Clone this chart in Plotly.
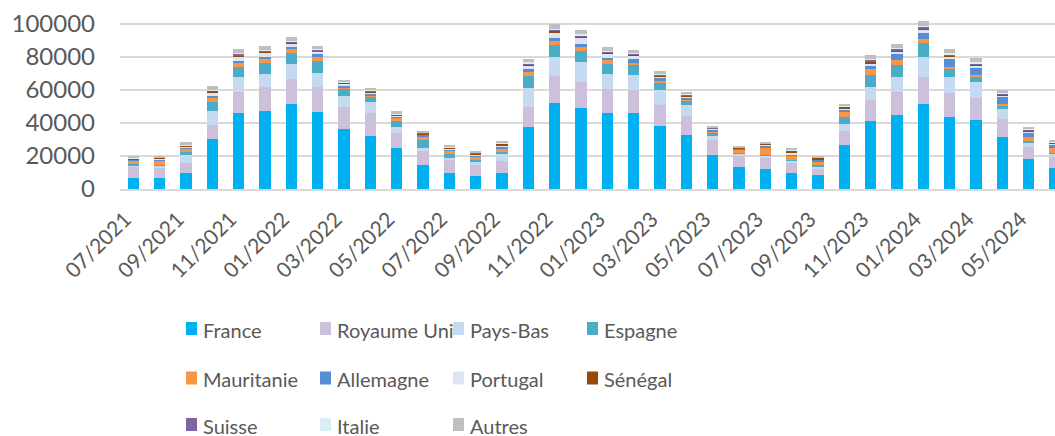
import plotly.graph_objects as go

months = ["07/2021", "08/2021", "09/2021", "10/2021", "11/2021", "12/2021",
          "01/2022", "02/2022", "03/2022", "04/2022", "05/2022", "06/2022",
          "07/2022", "08/2022", "09/2022", "10/2022", "11/2022", "12/2022",
          "01/2023", "02/2023", "03/2023", "04/2023", "05/2023", "06/2023",
          "07/2023", "08/2023", "09/2023", "10/2023", "11/2023", "12/2023",
          "01/2024", "02/2024", "03/2024", "04/2024", "05/2024", "06/2024"]

tick_labels = ["07/2021", "09/2021", "11/2021", "01/2022", "03/2022", "05/2022",
               "07/2022", "09/2022", "11/2022", "01/2023", "03/2023", "05/2023",
               "07/2023", "09/2023", "11/2023", "01/2024", "03/2024", "05/2024"]

france = [6900, 6900, 9900, 30500, 45700, 46900, 51100, 46300, 36400, 32300, 24800, 14500,
          9700, 8100, 9900, 37400, 52300, 48700, 45700, 45900, 37800, 32500, 20800, 13100,
          11900, 9500, 8300, 26500, 41200, 45000, 51700, 43600, 41600, 31500, 18000, 12500]
royaume_uni = [6800, 6300, 6100, 8500, 12900, 14500, 15600, 15400, 13100, 13900, 9300, 8700,
               8300, 6500, 6900, 12100, 16000, 16000, 14500, 13700, 12900, 11500, 8700, 6900,
               7300, 6100, 4000, 8500, 12900, 13900, 16000, 14300, 13700, 10700, 7300, 6700]
pays_bas = [800, 1200, 5000, 7900, 8900, 7900, 8700, 8700, 6900, 6300, 3600, 1800,
            1000, 2000, 4600, 11300, 11500, 11900, 9100, 9300, 9100, 6700, 2800, 1200,
            1200, 1600, 1200, 4200, 7700, 9100, 12100, 10100, 9100, 5900, 2800, 2000]
espagne = [600, 400, 1200, 5700, 6300, 7100, 6700, 7300, 4600, 3400, 3600, 4400,
           2000, 1200, 800, 7300, 7100, 6900, 6300, 6500, 4800, 3000, 1800, 400,
           400, 400, 800, 4200, 7100, 6900, 8500, 4400, 3200, 1800, 800, 600]
mauritanie = [2200, 2600, 2200, 2600, 2600, 2400, 2400, 2000, 600, 600, 1800, 2600,
              2400, 2000, 2000, 2400, 2600, 2600, 2200, 1000, 600, 400, 800, 2000,
              4400, 2800, 2400, 3200, 3800, 3200, 2200, 1600, 1400, 1800, 2600, 2800]
allemagne = [400, 400, 800, 1200, 1200, 1200, 1600, 2000, 1000, 1200, 1000, 800,
             600, 600, 1200, 1800, 1800, 1600, 1400, 2000, 2200, 1400, 1200, 600,
             1000, 600, 1000, 1200, 1400, 3400, 3600, 4400, 4000, 4000, 2800, 2600]
portugal = [400, 400, 400, 1600, 2400, 2400, 2000, 1200, 1200, 800, 400, 400,
            600, 600, 800, 2200, 3000, 3600, 2800, 2400, 800, 600, 400, 400,
            600, 800, 400, 1000, 2000, 1600, 2400, 1800, 1600, 800, 600, 400]
senegal = [400, 600, 800, 1400, 800, 800, 400, 400, 400, 400, 400, 400,
           400, 600, 1200, 1000, 1400, 1000, 400, 400, 400, 400, 200, 200,
           600, 1400, 800, 800, 1000, 800, 600, 400, 400, 400, 400, 600]
suisse = [200, 200, 200, 200, 1200, 600, 800, 800, 400, 600, 200, 400,
          200, 200, 200, 400, 600, 600, 800, 600, 600, 600, 200, 200,
          200, 200, 200, 400, 1000, 800, 1000, 800, 1000, 600, 400, 200]
italie = [200, 200, 200, 200, 400, 400, 400, 400, 400, 400, 400, 200,
          200, 200, 400, 800, 600, 600, 400, 400, 400, 400, 400, 200,
          200, 200, 200, 600, 600, 800, 600, 600, 600, 600, 400, 400]
autres = [600, 1000, 1800, 2400, 2400, 2200, 2000, 1800, 1200, 800, 1800, 1000,
          800, 600, 600, 2200, 2800, 2400, 2000, 1800, 2000, 1000, 1000, 1000,
          800, 1000, 600, 800, 2400, 2400, 3000, 2600, 2400, 1800, 1600, 600]

series_names = ["France", "Royaume Uni", "Pays-Bas", "Espagne", "Mauritanie", "Allemagne",
                "Portugal", "Sénégal", "Suisse", "Italie", "Autres"]
series_values = [france, royaume_uni, pays_bas, espagne, mauritanie, allemagne,
                 portugal, senegal, suisse, italie, autres]
series_colors = ["#00B0F0", "#CCC0DA", "#C5D9F1", "#4BACC6", "#F79646", "#558ED5",
                 "#DCE6F2", "#984807", "#8064A2", "#DAEEF3", "#BFBFBF"]

FONT = "Lato"
TXT = "#595959"
W, H = 1055, 436
ML, MT, MB = 120, 17, 247
PW, PH = W - ML, H - MT - MB

fig = go.Figure()
for name, vals, color in zip(series_names, series_values, series_colors):
    fig.add_trace(go.Bar(x=months, y=vals, name=name, showlegend=False,
                         marker=dict(color=color, line=dict(width=0))))

# manual legend (4 columns x 3 rows), positions in pixels converted to paper coords
col_marker_x = [186, 320, 453, 587]
row_center_y = [328.5, 378, 424.5]
shapes, annotations = [], []
for i, (name, color) in enumerate(zip(series_names, series_colors)):
    r, c = divmod(i, 4)
    mx, cy = col_marker_x[c], row_center_y[r]
    shapes.append(dict(type="rect", xref="paper", yref="paper",
                       x0=(mx - ML) / PW, x1=(mx + 11 - ML) / PW,
                       y0=(MT + PH - (cy + 6.5)) / PH, y1=(MT + PH - (cy - 6.5)) / PH,
                       fillcolor=color, line=dict(width=0), layer="above"))
    annotations.append(dict(text=name, xref="paper", yref="paper",
                            x=(mx + 15 - ML) / PW, y=(MT + PH - (cy + 1)) / PH,
                            xanchor="left", yanchor="middle", showarrow=False,
                            font=dict(family=FONT, size=20, color=TXT)))

fig.update_layout(
    width=W, height=H,
    margin=dict(l=ML, r=0, t=MT, b=MB, autoexpand=False),
    barmode="stack", bargap=0.57,
    plot_bgcolor="white", paper_bgcolor="white",
    font=dict(family=FONT, color=TXT),
    showlegend=False,
    shapes=shapes, annotations=annotations,
    xaxis=dict(type="category", categoryorder="array", categoryarray=months,
               range=[-0.5, 35.0], tickmode="array", tickvals=tick_labels,
               ticktext=tick_labels, tickangle=-45,
               tickfont=dict(family=FONT, size=21, color=TXT),
               showline=True, linecolor="#D9D9D9", linewidth=1.5,
               ticks="outside", ticklen=8, tickcolor="rgba(0,0,0,0)",
               ticklabelshift=-8,
               showgrid=False, automargin=False),
    yaxis=dict(range=[0, 104000], tickmode="array",
               tickvals=[0, 20000, 40000, 60000, 80000, 100000],
               ticktext=["0", "20000", "40000", "60000", "80000", "100000"],
               tickfont=dict(family=FONT, size=24, color=TXT),
               showgrid=True, gridcolor="#D9D9D9", gridwidth=1.5,
               zeroline=False, ticklabelstandoff=24, automargin=False),
)

fig.write_html("out.html", config={"displayModeBar": False},
               post_script="document.body.style.margin='0';document.body.style.overflow='hidden';")
